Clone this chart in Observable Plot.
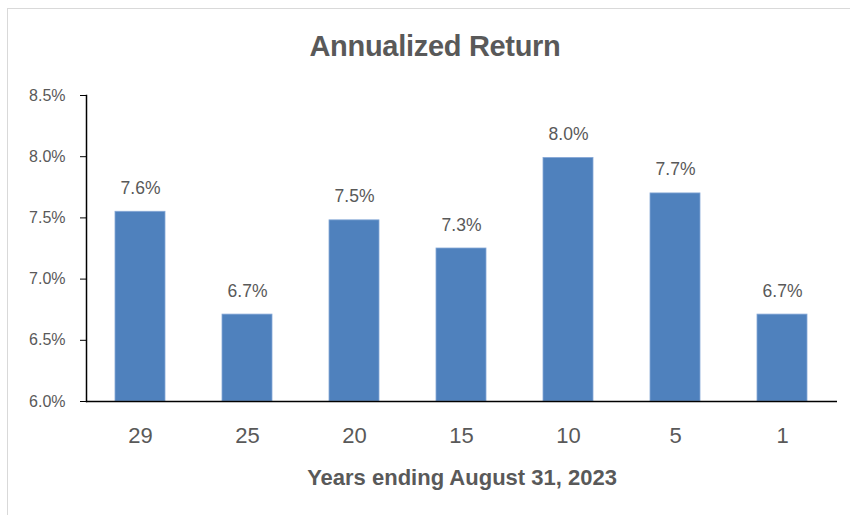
<!DOCTYPE html>
<html><head><meta charset="utf-8">
<script src="https://cdn.jsdelivr.net/npm/d3@7"></script>
<script src="https://cdn.jsdelivr.net/npm/@observablehq/plot@0.6"></script>
<style>
body{margin:0;background:#fff;}
#wrap{position:relative;width:850px;height:515px;overflow:hidden;background:#fff;}
#border{position:absolute;left:7px;top:8px;width:900px;height:600px;border:1px solid #d9d9d9;box-sizing:border-box;}
#title{position:relative;height:75px;box-sizing:border-box;padding-top:29px;padding-left:20px;text-align:center;font-family:"Liberation Sans",Arial,sans-serif;font-weight:bold;font-size:29px;line-height:34px;color:#595959;letter-spacing:-0.3px;}
#chart{position:relative;}
</style>
</head><body>
<div id="wrap"><div id="border"></div><div id="title"></div><div id="chart"></div></div>
<script>
const chartTitle = "Annualized Return";
const periods = ["29", "25", "20", "15", "10", "5", "1"];
const returns = [7.55, 6.71, 7.48, 7.25, 7.99, 7.70, 6.71];
const valueLabels = ["7.6%", "6.7%", "7.5%", "7.3%", "8.0%", "7.7%", "6.7%"];
const yTicks = [6.0, 6.5, 7.0, 7.5, 8.0, 8.5];
const xTitle = "Years ending August 31, 2023";

const data = periods.map((p, i) => ({period: p, value: returns[i], label: valueLabels[i]}));
document.getElementById("title").textContent = chartTitle;

const sans = '"Liberation Sans",Arial,sans-serif';
const plot = Plot.plot({
  width: 850, height: 440,
  marginLeft: 86, marginRight: 13, marginTop: 20, marginBottom: 114,
  style: {background: "transparent", color: "#595959", fontFamily: sans},
  x: {domain: periods, paddingInner: 0.53, paddingOuter: 0.265},
  y: {domain: [6, 8.5]},
  marks: [
    Plot.barY(data, {x: "period", y1: 6, y2: "value", fill: "#4f81bd", stroke: "#86a8d6", strokeWidth: 0.8}),
    Plot.text(data, {x: "period", y: "value", text: "label", dy: -18, lineAnchor: "bottom", fontSize: 17.5, fill: "#595959"}),
    Plot.axisY({ticks: yTicks, tickFormat: d => d.toFixed(1) + "%", tickSize: 6, tickPadding: 15, label: null, stroke: "#000", fill: "#595959", fontSize: 16}),
    Plot.frame({anchor: "left", stroke: "#000", strokeWidth: 1.5}),
    Plot.axisX({tickSize: 0, tickPadding: 26, label: null, fill: "#595959", fontSize: 22}),
    Plot.ruleY([6], {stroke: "#000", strokeWidth: 1.5}),
    Plot.text([xTitle], {frameAnchor: "bottom", dy: 76, lineAnchor: "middle", fontSize: 22, fontWeight: "bold", fill: "#595959"})
  ]
});
document.getElementById("chart").appendChild(plot);
</script>
</body></html>
